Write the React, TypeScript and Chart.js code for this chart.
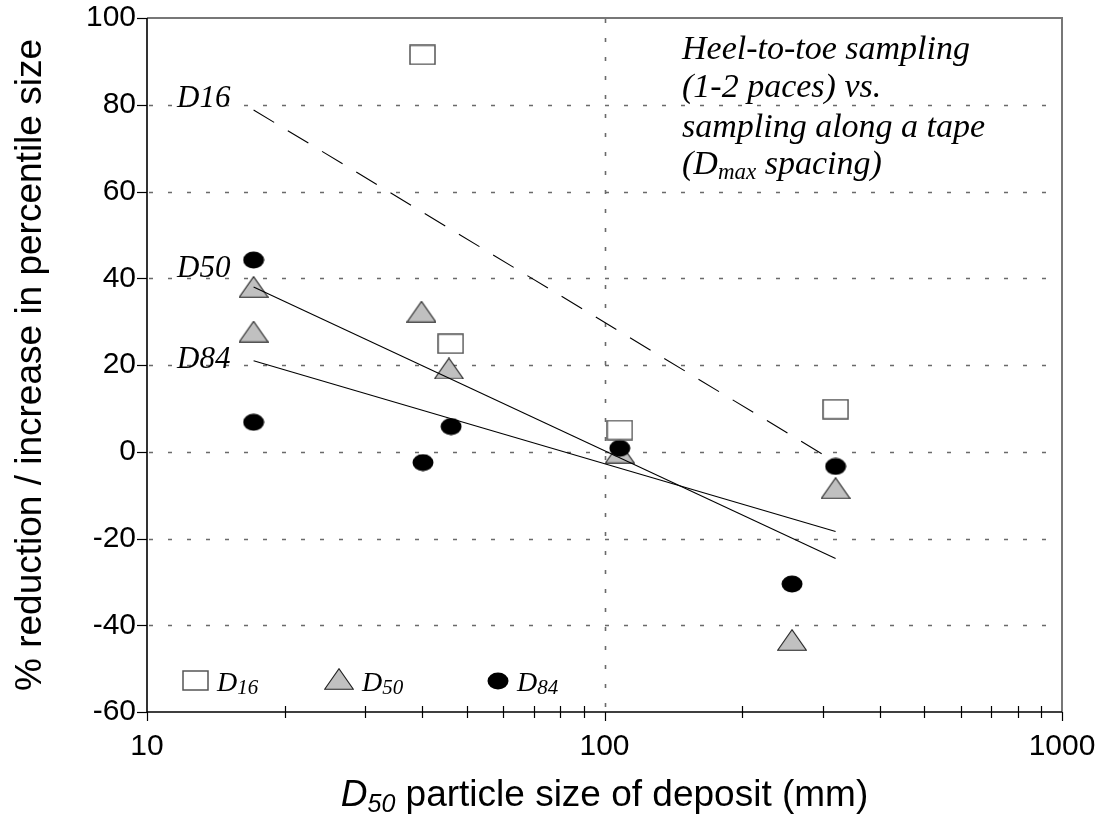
import React, { useEffect, useRef } from 'react';
import { Chart, registerables } from 'chart.js';

Chart.register(...registerables);

// ---------------- data ----------------
const d16X = [40.0, 46.1, 108, 320];
const d16Y = [91.5, 24.9, 5.0, 9.8];

const d50X = [17.1, 17.1, 39.8, 45.7, 108, 257, 320];
const d50Y = [38.0, 27.7, 32.3, 19.2, -0.2, -43.4, -8.4];

const d84X = [17.1, 17.1, 40.1, 46.2, 108, 257, 320];
const d84Y = [44.2, 6.8, -2.5, 5.8, 0.8, -30.5, -3.4];

const fitX = [17.1, 320];
const fitD16 = [78.8, -2.4];
const fitD50 = [38.0, -24.6];
const fitD84 = [21.0, -18.4];

const xTickValues = [10, 100, 1000];
const xMinorTicks = [20, 30, 40, 50, 60, 70, 80, 90, 200, 300, 400, 500, 600, 700, 800, 900];
const xGridValues = [100];
const yMin = -60;
const yMax = 100;
const yStep = 20;
const yGridValues = [80, 60, 40, 20, 0, -20, -40];

const curveLabels = ['D16', 'D50', 'D84'];
const curveLabelY = [80, 40, 20];
const legendSubs = ['16', '50', '84'];
const annotationLines = ['Heel-to-toe sampling', '(1-2 paces) vs.', 'sampling along a tape'];
const yTitle = '% reduction / increase in percentile size';
const xTitleRest = ' particle size of deposit (mm)';

const SANS = 'Arial, "Liberation Sans", sans-serif';
const SERIF = '"Times New Roman", "Liberation Serif", serif';

const toPts = (xs: number[], ys: number[]) => xs.map((x, i) => ({ x, y: ys[i] }));

function makeSquare() {
  const c = document.createElement('canvas');
  c.width = 27; c.height = 21;
  const g = c.getContext('2d')!;
  g.fillStyle = '#ffffff';
  g.strokeStyle = '#555555';
  g.lineWidth = 1.5;
  g.fillRect(1, 1, 25, 19);
  g.strokeRect(1, 1, 25, 19);
  return c;
}
function makeTriangle() {
  const c = document.createElement('canvas');
  c.width = 30; c.height = 22;
  const g = c.getContext('2d')!;
  g.beginPath();
  g.moveTo(0.7, 21.3);
  g.lineTo(29.3, 21.3);
  g.lineTo(15, 0.7);
  g.closePath();
  g.fillStyle = '#c0c0c0';
  g.fill();
  g.strokeStyle = '#222222';
  g.lineWidth = 1.1;
  g.stroke();
  return c;
}
function makeCircle() {
  const c = document.createElement('canvas');
  c.width = 22; c.height = 18;
  const g = c.getContext('2d')!;
  g.beginPath();
  g.ellipse(11, 9, 10.5, 8.5, 0, 0, Math.PI * 2);
  g.fillStyle = '#000000';
  g.fill();
  return c;
}

type Part = { text: string; font: string; dy?: number };
function drawRich(ctx: CanvasRenderingContext2D, parts: Part[], x: number, y: number) {
  let cx = x;
  for (const p of parts) {
    ctx.font = p.font;
    ctx.fillText(p.text, cx, y + (p.dy || 0));
    cx += ctx.measureText(p.text).width;
  }
  return cx - x;
}
function measureRich(ctx: CanvasRenderingContext2D, parts: Part[]) {
  let w = 0;
  for (const p of parts) {
    ctx.font = p.font;
    w += ctx.measureText(p.text).width;
  }
  return w;
}

const zeroPad = (scale: any) => {
  scale.paddingTop = 0;
  scale.paddingBottom = 0;
  scale.paddingLeft = 0;
  scale.paddingRight = 0;
};

export default function App() {
  const ref = useRef<HTMLCanvasElement>(null);

  useEffect(() => {
    const canvas = ref.current;
    if (!canvas) return;
    const sq = makeSquare();
    const tri = makeTriangle();
    const circ = makeCircle();

    const decor = {
      id: 'decor',
      beforeDatasetsDraw(chart: any) {
        const { ctx, chartArea: a, scales } = chart;
        const x = scales.x, y = scales.y;
        ctx.save();
        ctx.strokeStyle = '#6a6a6a';
        ctx.lineWidth = 1.6;
        ctx.setLineDash([4, 15]);
        for (const v of yGridValues) {
          const py = Math.round(y.getPixelForValue(v)) + 0.5;
          ctx.beginPath();
          ctx.moveTo(a.left + 2, py);
          ctx.lineTo(a.right, py);
          ctx.stroke();
        }
        for (const v of xGridValues) {
          const px = Math.round(x.getPixelForValue(v)) + 0.5;
          ctx.beginPath();
          ctx.moveTo(px, a.top + 1);
          ctx.lineTo(px, a.bottom);
          ctx.stroke();
        }
        ctx.restore();
      },
      afterDatasetsDraw(chart: any) {
        const { ctx, chartArea: a, scales } = chart;
        const x = scales.x, y = scales.y;
        ctx.save();
        // frame: top & right grey
        ctx.strokeStyle = '#777777';
        ctx.lineWidth = 2;
        ctx.beginPath();
        ctx.moveTo(a.left, a.top);
        ctx.lineTo(a.right, a.top);
        ctx.lineTo(a.right, a.bottom);
        ctx.stroke();
        // left & bottom black
        ctx.strokeStyle = '#000000';
        ctx.lineWidth = 1.6;
        ctx.beginPath();
        ctx.moveTo(a.left, a.top);
        ctx.lineTo(a.left, a.bottom);
        ctx.lineTo(a.right, a.bottom);
        ctx.stroke();
        // y ticks
        ctx.lineWidth = 1.2;
        for (let v = yMin; v <= yMax; v += yStep) {
          const py = Math.round(y.getPixelForValue(v)) + 0.5;
          ctx.beginPath();
          ctx.moveTo(a.left - 10, py);
          ctx.lineTo(a.left, py);
          ctx.stroke();
        }
        // x ticks
        for (const v of xTickValues) {
          const px = Math.round(x.getPixelForValue(v)) + 0.5;
          ctx.beginPath();
          ctx.moveTo(px, a.bottom);
          ctx.lineTo(px, a.bottom + 9);
          ctx.stroke();
        }
        for (const v of xMinorTicks) {
          const px = Math.round(x.getPixelForValue(v)) + 0.5;
          ctx.beginPath();
          ctx.moveTo(px, a.bottom - 6);
          ctx.lineTo(px, a.bottom + 6);
          ctx.stroke();
        }

        ctx.fillStyle = '#000000';
        ctx.textAlign = 'left';
        ctx.textBaseline = 'alphabetic';

        // curve labels on the left
        const labelOffsets = [2, -1, 3];
        curveLabels.forEach((t, i) => {
          ctx.font = `italic 31px ${SERIF}`;
          ctx.fillText(t, a.left + 30, y.getPixelForValue(curveLabelY[i]) + labelOffsets[i]);
        });

        // annotation
        const annX = 682;
        const baselines = [59, 97, 137, 174];
        annotationLines.forEach((t, i) => {
          ctx.font = `italic 34px ${SERIF}`;
          ctx.fillText(t, annX, baselines[i]);
        });
        drawRich(ctx, [
          { text: '(D', font: `italic 34px ${SERIF}` },
          { text: 'max', font: `italic 23px ${SERIF}`, dy: 5 },
          { text: ' spacing)', font: `italic 34px ${SERIF}` },
        ], annX, baselines[3]);

        // legend
        const legY = y.getPixelForValue(-52.8);
        const legMarkX = [195, 339, 498];
        const legTextX = [217, 362, 517];
        const imgs = [sq, tri, circ];
        imgs.forEach((im, i) => {
          ctx.drawImage(im, Math.round(legMarkX[i] - im.width / 2), Math.round(legY - im.height / 2 - (i === 1 ? 2 : 0)));
          drawRich(ctx, [
            { text: 'D', font: `italic 28px ${SERIF}` },
            { text: legendSubs[i], font: `italic 21px ${SERIF}`, dy: 3 },
          ], legTextX[i], legY + 10);
        });

        // x title
        const xParts: Part[] = [
          { text: 'D', font: `italic 37px ${SANS}` },
          { text: '50', font: `italic 25px ${SANS}`, dy: 6 },
          { text: xTitleRest, font: `37px ${SANS}` },
        ];
        const w = measureRich(ctx, xParts);
        drawRich(ctx, xParts, (a.left + a.right) / 2 - w / 2, 806);

        // y title
        ctx.save();
        ctx.translate(41, (a.top + a.bottom) / 2);
        ctx.rotate(-Math.PI / 2);
        ctx.textAlign = 'center';
        ctx.font = `37px ${SANS}`;
        ctx.fillText(yTitle, 0, 0);
        ctx.restore();

        ctx.restore();
      },
    };

    const lineDs = (data: number[], dashed: boolean) => ({
      type: 'scatter' as const,
      data: toPts(fitX, data),
      showLine: true,
      borderColor: '#000000',
      borderWidth: 1.1,
      borderDash: dashed ? [24, 16] : [],
      pointRadius: 0,
      pointHoverRadius: 0,
      fill: false,
      order: 0,
    });

    const chart = new Chart(canvas, {
      type: 'scatter',
      data: {
        datasets: [
          lineDs(fitD16, true),
          lineDs(fitD50, false),
          lineDs(fitD84, false),
          { label: 'D16', data: toPts(d16X, d16Y), pointStyle: sq, pointRadius: 12, order: 1 },
          { label: 'D84', data: toPts(d84X, d84Y), pointStyle: circ, pointRadius: 12, order: 2 },
          { label: 'D50', data: toPts(d50X, d50Y), pointStyle: tri, pointRadius: 12, order: 3 },
        ] as any,
      },
      options: {
        animation: false,
        responsive: false,
        maintainAspectRatio: false,
        events: [],
        layout: { padding: { left: 0, top: 18, right: 37, bottom: 0 } },
        plugins: { legend: { display: false }, tooltip: { enabled: false } },
        scales: {
          x: {
            type: 'logarithmic',
            min: 10,
            max: 1000,
            grid: { display: false, drawTicks: false },
            border: { display: false },
            afterBuildTicks: (scale: any) => {
              scale.ticks = xTickValues.map((v) => ({ value: v }));
            },
            afterFit: (scale: any) => { scale.height = 105; zeroPad(scale); },
            ticks: {
              autoSkip: false,
              maxRotation: 0,
              padding: 17,
              color: '#000000',
              font: { family: SANS, size: 30 },
              callback: (v: any) => String(v),
            },
          },
          y: {
            type: 'linear',
            min: yMin,
            max: yMax,
            grid: { display: false, drawTicks: false },
            border: { display: false },
            afterFit: (scale: any) => { scale.width = 147; zeroPad(scale); },
            ticks: {
              stepSize: yStep,
              padding: 11,
              color: '#000000',
              font: { family: SANS, size: 30 },
            },
          },
        },
      },
      plugins: [decor],
    } as any);

    return () => chart.destroy();
  }, []);

  return (
    <div style={{ position: 'absolute', left: 0, top: 0, width: 1099, height: 817, background: '#ffffff' }}>
      <canvas ref={ref} width={1099} height={817} style={{ display: 'block' }} />
    </div>
  );
}
